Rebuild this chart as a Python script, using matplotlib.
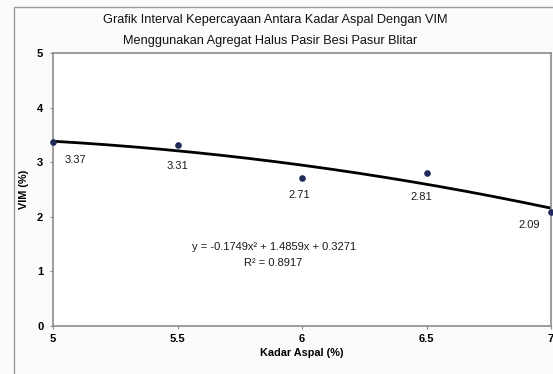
import numpy as np
import matplotlib
matplotlib.use("Agg")
import matplotlib.pyplot as plt
from matplotlib.patches import Rectangle

plt.rcParams['font.family'] = ['Liberation Sans', 'DejaVu Sans']

# Kadar aspal (%) and measured VIM (%)
kadar_aspal = [5.0, 5.5, 6.0, 6.5, 7.0]
vim = [3.37, 3.31, 2.71, 2.81, 2.09]
vim_labels = ["3.37", "3.31", "2.71", "2.81", "2.09"]

# quadratic trend line coefficients
coef_a, coef_b, coef_c = -0.1749, 1.4859, 0.3271
r_squared = 0.8917

x_ticks = [5, 5.5, 6, 6.5, 7]
x_tick_labels = ["5", "5.5", "6", "6.5", "7"]
y_ticks = [0, 1, 2, 3, 4, 5]

W, H = 553, 374
fig = plt.figure(figsize=(W / 100, H / 100), dpi=100)
fig.patch.set_facecolor('#fbfbf9')

# outer chart frame
fig.patches.append(Rectangle((14 / W, -0.01), 1.0, 1 - 7 / H + 0.01,
                             transform=fig.transFigure, fill=False,
                             edgecolor='#9a9a9a', linewidth=1.0))

ax = fig.add_axes([53 / W, 1 - 326 / H, (551 - 53) / W, (326 - 53) / H])
ax.set_facecolor('white')
ax.set_xlim(5, 7)
ax.set_ylim(0, 5)

xs = np.linspace(5, 7, 200)
ax.plot(xs, coef_a * xs ** 2 + coef_b * xs + coef_c, color='black', lw=2.0, zorder=2)
ax.scatter(kadar_aspal, vim, s=14, color='#1f2a5a', zorder=3, clip_on=False)

offsets = [(22, -18), (0, -21), (-3, -17), (-5, -24), (-22, -13)]
for (x, y, lab), (dx, dy) in zip(zip(kadar_aspal, vim, vim_labels), offsets):
    ax.annotate(lab, (x, y), xytext=(dx, dy), textcoords='offset pixels',
                ha='center', va='center', fontsize=8, color='#1a1a1a')

eq_text = "y = %.4fx\u00b2 + %.4fx + %.4f" % (coef_a, coef_b, coef_c)
ax.text(0.443, 0.289, eq_text,
        transform=ax.transAxes, ha='center', va='center', fontsize=8, color='#1a1a1a')
ax.text(0.443, 0.231, "R\u00b2 = %.4f" % r_squared,
        transform=ax.transAxes, ha='center', va='center', fontsize=8, color='#1a1a1a')

ax.set_xticks(x_ticks)
ax.set_xticklabels(x_tick_labels)
ax.set_yticks(y_ticks)
ax.tick_params(axis='both', labelsize=8, length=2, color='#888888', width=0.8)
ax.tick_params(axis='x', pad=4)
ax.tick_params(axis='y', pad=5)
for lab in ax.get_xticklabels() + ax.get_yticklabels():
    lab.set_fontweight('bold')

for s in ax.spines.values():
    s.set_color('#8c8c8c')
    s.set_linewidth(1.2)

ax.set_xlabel("Kadar Aspal (%)", fontsize=7.8, fontweight='bold', labelpad=3)
ax.set_ylabel("VIM (%)", fontsize=7.8, fontweight='bold', labelpad=6)

fig.text(275 / W, 1 - 20 / H, "Grafik Interval Kepercayaan Antara Kadar Aspal Dengan VIM",
         ha='center', va='center', fontsize=9.2, color='#111111')
fig.text(270 / W, 1 - 41 / H, "Menggunakan Agregat Halus Pasir Besi Pasur Blitar",
         ha='center', va='center', fontsize=9.2, color='#111111')

fig.savefig("out.png", dpi=100, facecolor=fig.get_facecolor())
